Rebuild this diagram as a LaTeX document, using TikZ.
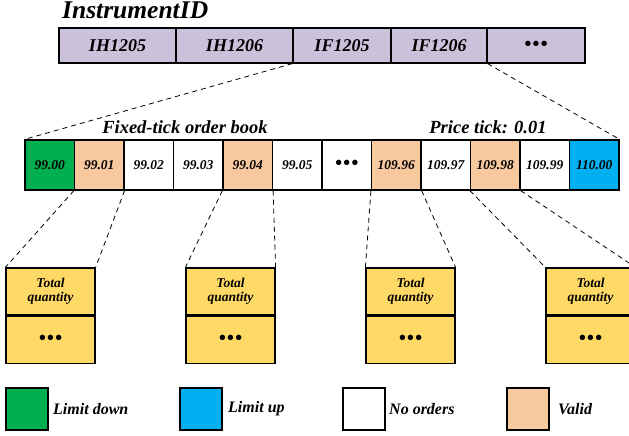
\documentclass[tikz,border=0pt]{standalone}
\usepackage{fontspec}
\setmainfont{Liberation Serif}
\definecolor{idpurple}{HTML}{CCC1DA}
\definecolor{limdown}{HTML}{00B050}
\definecolor{limup}{HTML}{00B0F0}
\definecolor{validc}{HTML}{F8C89E}
\definecolor{qtyyellow}{HTML}{FFD966}
\newcommand{\dotsrow}{{\fontsize{20}{20}\selectfont\textbullet\kern1.2pt\textbullet\kern1.2pt\textbullet}}
\tikzset{
  idcell/.style={draw, line width=1.2pt, fill=idpurple, minimum height=35pt, inner sep=0pt,
    font=\fontsize{18}{20}\selectfont\bfseries\itshape},
  pricecell/.style={draw, line width=1.2pt, minimum width=49.5pt, minimum height=50pt, inner sep=0pt,
    font=\fontsize{13.5}{15}\selectfont\bfseries\itshape},
  qtybox/.style={draw, line width=1.2pt, fill=qtyyellow, minimum width=89pt, minimum height=47pt,
    inner sep=0pt, align=center, font=\fontsize{13.5}{15}\selectfont\bfseries\itshape},
  legbox/.style={draw, line width=1.2pt, minimum width=42pt, minimum height=42pt, inner sep=0pt},
  legtext/.style={anchor=west, inner sep=0pt, font=\fontsize{16}{18}\selectfont\bfseries\itshape},
  caption/.style={inner sep=0pt, anchor=base, font=\fontsize{18.5}{20}\selectfont\bfseries\itshape},
  zoomline/.style={line width=0.8pt, dash pattern=on 5pt off 4pt}
}
\begin{document}
\begin{tikzpicture}[x=1pt,y=-1pt]
\useasboundingbox (0,0) rectangle (629,436);

% instrument list
\node[inner sep=0pt, anchor=base west, font=\fontsize{25.5}{27}\selectfont\bfseries\itshape] (title) at (62,18.5) {InstrumentID};
\node[idcell, minimum width=117pt] (t1) at (117.5,45.5) {IH1205};
\node[idcell, minimum width=117pt] (t2) at (234.5,45.5) {IH1206};
\node[idcell, minimum width=98pt]  (t3) at (342,45.5) {IF1205};
\node[idcell, minimum width=96pt]  (t4) at (439,45.5) {IF1206};
\node[idcell, minimum width=98pt]  (t5) at (536,45.5) {\dotsrow};

% order book row
\node[caption] (lbl1) at (185,133) {Fixed-tick order book};
\node[caption] (lbl2) at (488,133) {Price tick: 0.01};
\foreach \i/\txt/\col in {1/99.00/limdown, 2/99.01/validc, 3/99.02/white, 4/99.03/white,
    5/99.04/validc, 6/99.05/white, 7/\dotsrow/white, 8/109.96/validc, 9/109.97/white,
    10/109.98/validc, 11/109.99/white, 12/110.00/limup}{
  \node[pricecell, fill=\col] (c\i) at ({25+49.5*(\i-0.5)},165) {\txt};
}

% quantity boxes
\foreach \j/\x in {1/50.5, 2/230.5, 3/410.5, 4/590.5}{
  \node[qtybox] (q\j) at (\x,291.5) {Total\\[-1pt]quantity};
  \node[qtybox, anchor=north] (d\j) at (q\j.south) {\dotsrow};
}

% zoom connectors
\draw[zoomline] (t3.south west) -- (c1.north west);
\draw[zoomline] (t4.south east) -- (c12.north east);
\foreach \c/\j in {2/1, 5/2, 8/3, 10/4}{
  \draw[zoomline] (c\c.south west) -- (q\j.north west);
  \draw[zoomline] (c\c.south east) -- (q\j.north east);
}

% legend
\node[legbox, fill=limdown] (k1) at (27,409) {};
\node[legtext] (k1t) at (53,409) {Limit down};
\node[legbox, fill=limup] (k2) at (201,409) {};
\node[legtext] (k2t) at (228,409) {Limit up};
\node[legbox, fill=white] (k3) at (364,409) {};
\node[legtext] (k3t) at (389,409) {No orders};
\node[legbox, fill=validc] (k4) at (528,409) {};
\node[legtext] (k4t) at (558,409) {Valid};
\end{tikzpicture}
\end{document}
